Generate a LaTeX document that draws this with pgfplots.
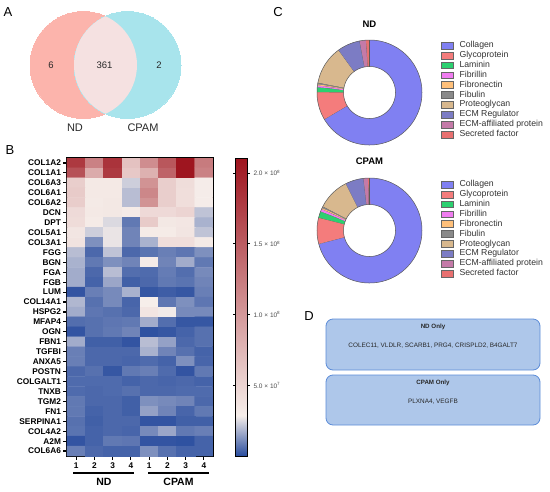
\documentclass[border=0pt]{standalone}
\usepackage{fontspec}
\setmainfont{Liberation Sans}
\usepackage{pgfplots}
\pgfplotsset{compat=1.18}
\usepackage{pgfplotstable}
\usepgfplotslibrary{polar}

\definecolor{vennL}{RGB}{252,180,172}
\definecolor{vennR}{RGB}{168,228,236}
\definecolor{vennM}{RGB}{245,225,225}
\definecolor{ecm0}{RGB}{128,128,242}
\definecolor{ecm1}{RGB}{244,124,124}
\definecolor{ecm2}{RGB}{44,208,112}
\definecolor{ecm3}{RGB}{240,124,240}
\definecolor{ecm4}{RGB}{255,192,122}
\definecolor{ecm5}{RGB}{138,138,138}
\definecolor{ecm6}{RGB}{216,184,142}
\definecolor{ecm7}{RGB}{124,124,196}
\definecolor{ecm8}{RGB}{196,122,168}
\definecolor{ecm9}{RGB}{232,112,112}
\definecolor{boxfill}{RGB}{174,199,234}
\definecolor{boxdraw}{RGB}{92,140,216}
\definecolor{txt}{RGB}{40,40,40}

\tikzset{edge/.style={draw=black!65, line width=0.5pt}}

% share of each ECM category (percent)
\pgfplotstableread{
nd cpam
66.5 70.9
8.7 8.1
1.5 2.0
0.6 0.8
0.4 0.5
0.3 0.3
12.0 10.0
7.0 5.6
2.0 1.5
1.0 0.3
}\ecmtable

\newcommand{\donut}[1]{%
  \def\cum{0}%
  \pgfplotsforeachungrouped \i in {0,...,9}{%
    \pgfplotstablegetelem{\i}{#1}\of\ecmtable
    \pgfmathsetmacro\aone{90-3.6*\cum}%
    \pgfmathsetmacro\cum{\cum+\pgfplotsretval}%
    \pgfmathsetmacro\atwo{90-3.6*\cum}%
    \edef\doslice{\noexpand\addplot[forget plot, ecm\i, line width=26.5pt, domain=\atwo:\aone, samples=90, no markers] {39.25};
      \noexpand\addplot[forget plot, edge, no markers] coordinates {(\atwo,26) (\atwo,52.5)};}%
    \doslice
  }%
  \addplot[forget plot, edge, no markers, domain=0:360, samples=180] {52.5};
  \addplot[forget plot, edge, no markers, domain=0:360, samples=180] {26};
  \addlegendimage{fill=ecm0}\addlegendimage{fill=ecm1}\addlegendimage{fill=ecm2}
  \addlegendimage{fill=ecm3}\addlegendimage{fill=ecm4}\addlegendimage{fill=ecm5}
  \addlegendimage{fill=ecm6}\addlegendimage{fill=ecm7}\addlegendimage{fill=ecm8}
  \addlegendimage{fill=ecm9}
  \legend{Collagen,Glycoprotein,Laminin,Fibrillin,Fibronectin,Fibulin,Proteoglycan,ECM Regulator,ECM-affiliated protein,Secreted factor}
}

\pgfplotsset{
  donut/.style={
    anchor=center, scale only axis, width=105pt, height=105pt,
    ymin=0, ymax=52.5, hide axis, clip=false,
    legend image code/.code={\draw[##1, draw=black!60, line width=0.4pt] (0pt,-3.4pt) rectangle (12pt,3.4pt); \path (18pt,0pt);},
    legend cell align=left,
    legend style={anchor=north west, draw=none, fill=none, inner sep=0pt,
      font=\fontsize{8.7}{9}\selectfont, text=black!80, row sep=1.6pt,
      nodes={inner sep=0pt, text height=6.3pt, text depth=2pt}},
  },
}

\begin{document}
\begin{tikzpicture}
\path[use as bounding box] (0pt,0pt) rectangle (550pt,-491pt);

% A: Venn circles
\begin{axis}[at={(0pt,0pt)}, anchor=north west, scale only axis,
  width=550pt, height=491pt, xmin=0, xmax=550, ymin=0, ymax=491,
  y dir=reverse, hide axis, clip=false]
\addplot[only marks, mark=*, mark size=53.5pt, mark options={fill=vennL, draw=vennL, line width=0pt}] coordinates {(83.5,65)};
\addplot[only marks, mark=*, mark size=53.5pt, mark options={fill=vennR, draw=vennR, line width=0pt}] coordinates {(127.5,65)};
\end{axis}

% B: heatmap
\begin{axis}[
  at={(67pt,-158pt)}, anchor=north west,
  scale only axis, width=146pt, height=298pt,
  xmin=-0.5, xmax=7.5, ymin=-0.5, ymax=29.5, y dir=reverse,
  enlargelimits=false,
  axis line style={line width=1.4pt},
  tick pos=left, tick align=outside,
  major tick length=3.5pt,
  tick style={line width=1.1pt, black},
  xtick={0,...,7}, xticklabels={1,2,3,4,1,2,3,4},
  ytick={0,...,29},
  yticklabels={COL1A2,COL1A1,COL6A3,COL6A1,COL6A2,DCN,DPT,COL5A1,COL3A1,FGG,BGN,FGA,FGB,LUM,COL14A1,HSPG2,MFAP4,OGN,FBN1,TGFBI,ANXA5,POSTN,COLGALT1,TNXB,TGM2,FN1,SERPINA1,COL4A2,A2M,COL6A6},
  ticklabel style={font=\fontsize{8.3}{8.5}\selectfont\bfseries},
  yticklabel style={xshift=1pt},
  colormap={hm}{rgb255(0pt)=(40,76,158) rgb255(28.7pt)=(246,238,234) rgb255(210.6pt)=(158,20,30)},
  point meta min=0, point meta max=21.06,
  colorbar,
  colorbar style={
    at={(parent axis.north east)}, anchor=north west, xshift=14pt,
    scale only axis, width=12pt, height=298pt, y dir=normal,
    axis line style={line width=0.7pt},
    ytick={5,10,15,20},
    yticklabels={5.0 × 10\textsuperscript{7},1.0 × 10\textsuperscript{8},1.5 × 10\textsuperscript{8},2.0 × 10\textsuperscript{8}},
    yticklabel style={font=\fontsize{6.5}{7}\selectfont\mdseries, text=black!70, xshift=0pt},
    major tick length=2.5pt, tick align=outside,
    tick style={line width=0.8pt, black},
  },
]
\addplot[matrix plot*, mesh/cols=8, point meta=explicit] table[row sep=\\, meta=z]{
x y z\\
0 0 18\\ 1 0 12\\ 2 0 18.5\\ 3 0 6.5\\ 4 0 11\\ 5 0 15.5\\ 6 0 21\\ 7 0 12.5\\
0 1 16\\ 1 1 8.5\\ 2 1 18\\ 3 1 6\\ 4 1 8\\ 5 1 14.5\\ 6 1 21\\ 7 1 12\\
0 2 5.5\\ 1 2 3.3\\ 2 2 3.3\\ 3 2 2.3\\ 4 2 10.5\\ 5 2 5.5\\ 6 2 4.3\\ 7 2 3.0\\
0 3 5.8\\ 1 3 3.3\\ 2 3 3.3\\ 3 3 2.0\\ 4 3 11.5\\ 5 3 5.5\\ 6 3 4.2\\ 7 3 3.0\\
0 4 5.6\\ 1 4 3.2\\ 2 4 3.4\\ 3 4 2.0\\ 4 4 10.5\\ 5 4 5.5\\ 6 4 4.2\\ 7 4 3.0\\
0 5 4.5\\ 1 5 3.3\\ 2 5 3.4\\ 3 5 3.1\\ 4 5 4.6\\ 5 5 4.6\\ 6 5 5.0\\ 7 5 2.1\\
0 6 4.4\\ 1 6 3.1\\ 2 6 2.5\\ 3 6 0.8\\ 4 6 5.8\\ 5 6 3.4\\ 6 6 3.5\\ 7 6 1.8\\
0 7 3.6\\ 1 7 2.3\\ 2 7 2.7\\ 3 7 1.0\\ 4 7 3.1\\ 5 7 3.1\\ 6 7 3.6\\ 7 7 2.1\\
0 8 3.8\\ 1 8 1.2\\ 2 8 2.7\\ 3 8 1.0\\ 4 8 1.8\\ 5 8 4.2\\ 6 8 4.2\\ 7 8 3.2\\
0 9 2.0\\ 1 9 0.5\\ 2 9 2.1\\ 3 9 0.5\\ 4 9 0.7\\ 5 9 0.9\\ 6 9 0.75\\ 7 9 1.2\\
0 10 1.8\\ 1 10 0.8\\ 2 10 1.2\\ 3 10 1.0\\ 4 10 3.1\\ 5 10 1.0\\ 6 10 1.7\\ 7 10 0.8\\
0 11 1.7\\ 1 11 0.5\\ 2 11 2.0\\ 3 11 0.6\\ 4 11 0.55\\ 5 11 0.85\\ 6 11 0.6\\ 7 11 1.1\\
0 12 1.7\\ 1 12 0.4\\ 2 12 1.6\\ 3 12 0.35\\ 4 12 0.5\\ 5 12 0.8\\ 6 12 0.7\\ 7 12 1.0\\
0 13 0.15\\ 1 13 0.9\\ 2 13 1.1\\ 3 13 1.8\\ 4 13 0.2\\ 5 13 0.3\\ 6 13 0.2\\ 7 13 0.9\\
0 14 1.9\\ 1 14 0.65\\ 2 14 1.1\\ 3 14 0.45\\ 4 14 2.9\\ 5 14 0.75\\ 6 14 1.2\\ 7 14 0.75\\
0 15 1.7\\ 1 15 0.75\\ 2 15 0.65\\ 3 15 0.5\\ 4 15 3.6\\ 5 15 2.8\\ 6 15 1.1\\ 7 15 1.1\\
0 16 0.6\\ 1 16 0.65\\ 2 16 0.75\\ 3 16 0.8\\ 4 16 1.7\\ 5 16 0.6\\ 6 16 0.2\\ 7 16 0.2\\
0 17 0.15\\ 1 17 0.65\\ 2 17 0.8\\ 3 17 1.0\\ 4 17 0.1\\ 5 17 0.2\\ 6 17 0.4\\ 7 17 0.65\\
0 18 1.7\\ 1 18 0.35\\ 2 18 0.35\\ 3 18 0.15\\ 4 18 2.0\\ 5 18 1.5\\ 6 18 0.5\\ 7 18 0.65\\
0 19 0.9\\ 1 19 0.5\\ 2 19 0.5\\ 3 19 0.5\\ 4 19 1.8\\ 5 19 1.0\\ 6 19 0.65\\ 7 19 0.4\\
0 20 0.9\\ 1 20 0.5\\ 2 20 0.5\\ 3 20 0.45\\ 4 20 0.55\\ 5 20 0.4\\ 6 20 1.2\\ 7 20 0.45\\
0 21 0.5\\ 1 21 0.65\\ 2 21 0.2\\ 3 21 0.8\\ 4 21 0.9\\ 5 21 0.55\\ 6 21 0.15\\ 7 21 0.8\\
0 22 0.55\\ 1 22 0.55\\ 2 22 0.55\\ 3 22 0.4\\ 4 22 0.5\\ 5 22 0.45\\ 6 22 0.5\\ 7 22 0.4\\
0 23 0.55\\ 1 23 0.5\\ 2 23 0.55\\ 3 23 0.65\\ 4 23 0.5\\ 5 23 0.5\\ 6 23 0.55\\ 7 23 0.55\\
0 24 0.8\\ 1 24 0.5\\ 2 24 0.5\\ 3 24 0.35\\ 4 24 1.2\\ 5 24 1.1\\ 6 24 1.0\\ 7 24 0.5\\
0 25 0.8\\ 1 25 0.4\\ 2 25 0.5\\ 3 25 0.35\\ 4 25 1.5\\ 5 25 1.0\\ 6 25 0.45\\ 7 25 0.8\\
0 26 0.65\\ 1 26 0.35\\ 2 26 0.5\\ 3 26 0.5\\ 4 26 0.15\\ 5 26 0.15\\ 6 26 0.35\\ 7 26 0.35\\
0 27 0.7\\ 1 27 0.4\\ 2 27 0.5\\ 3 27 0.45\\ 4 27 1.1\\ 5 27 1.6\\ 6 27 0.8\\ 7 27 0.9\\
0 28 0.15\\ 1 28 0.4\\ 2 28 0.8\\ 3 28 0.75\\ 4 28 0.15\\ 5 28 0.15\\ 6 28 0.1\\ 7 28 0.4\\
0 29 0.9\\ 1 29 0.5\\ 2 29 0.4\\ 3 29 0.4\\ 4 29 1.2\\ 5 29 0.65\\ 6 29 0.4\\ 7 29 0.4\\
};
\end{axis}

% C: donuts
\begin{polaraxis}[donut, at={(369.5pt,-92.5pt)},
  legend style={at={(1.18,0.99)}}]
\donut{nd}
\end{polaraxis}
\begin{polaraxis}[donut, at={(369.5pt,-230.5pt)},
  legend style={at={(1.18,0.98)}}]
\donut{cpam}
\end{polaraxis}

\begin{scope}[x=1pt, y=-1pt]
  % Venn overlap
  \begin{scope}
    \clip (83.5,65) circle[radius=53.5pt];
    \fill[vennM] (127.5,65) circle[radius=53.5pt];
  \end{scope}
  \begin{scope}[font=\fontsize{9.5}{10}\selectfont, text=txt]
    \node at (51,65) {6};
    \node at (104.5,65) {361};
    \node at (159,65) {2};
  \end{scope}
  \node[font=\fontsize{11}{12}\selectfont, text=txt] at (75,127.5) {ND};
  \node[font=\fontsize{11}{12}\selectfont, text=txt] at (143,127.5) {CPAM};

  % panel letters
  \begin{scope}[font=\fontsize{13}{13}\selectfont]
    \node at (8,12) {A};
    \node at (10,150) {B};
    \node at (278,12) {C};
    \node at (309,316) {D};
  \end{scope}

  % heatmap group brackets
  \draw[line width=1.2pt] (73,473) -- (134,473);
  \draw[line width=1.2pt] (148,473) -- (209,473);
  \node[font=\fontsize{10.5}{11}\selectfont\bfseries] at (104,482) {ND};
  \node[font=\fontsize{10.5}{11}\selectfont\bfseries] at (178.5,482) {CPAM};

  % donut titles
  \node[font=\fontsize{9.5}{10}\selectfont\bfseries] at (369.5,24) {ND};
  \node[font=\fontsize{9.5}{10}\selectfont\bfseries] at (369.5,161) {CPAM};

  % D: unique proteins
  \draw[boxdraw, fill=boxfill, rounded corners=7pt, line width=0.8pt] (326,319) rectangle (540,370);
  \draw[boxdraw, fill=boxfill, rounded corners=7pt, line width=0.8pt] (326,375) rectangle (540,425);
  \node[font=\fontsize{6.2}{7}\selectfont\bfseries, text=txt] at (433,327) {ND Only};
  \node[font=\fontsize{6.4}{7}\selectfont, text=txt] at (433,346) {COLEC11, VLDLR, SCARB1, PRG4, CRISPLD2, B4GALT7};
  \node[font=\fontsize{6.2}{7}\selectfont\bfseries, text=txt] at (433,383) {CPAM Only};
  \node[font=\fontsize{6.4}{7}\selectfont, text=txt] at (433,402) {PLXNA4, VEGFB};
\end{scope}
\end{tikzpicture}
\end{document}
